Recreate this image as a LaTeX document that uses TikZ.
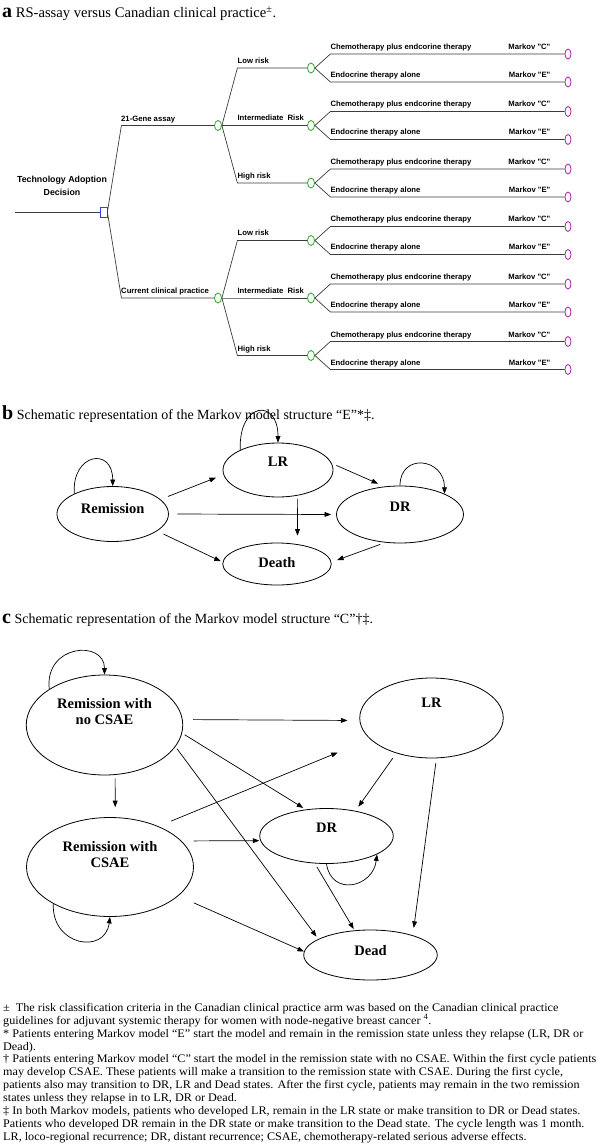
\documentclass[tikz,border=0pt]{standalone}
\usepackage{fontspec}
\setmainfont{Liberation Serif}
\newfontfamily\treefont{Liberation Sans}
\newfontfamily\notefont{Liberation Serif}[FakeStretch=1.05]
\usetikzlibrary{arrows.meta,calc,shapes.geometric}

\definecolor{chancegreen}{RGB}{40,170,40}
\definecolor{decblue}{RGB}{60,60,230}
\definecolor{markovpurple}{RGB}{170,30,170}
\definecolor{treegray}{RGB}{60,60,60}

\begin{document}
\begin{tikzpicture}[x=1pt,y=-1pt,
    branch/.style={draw=treegray,line width=0.7pt},
    decision/.style={rectangle,draw=decblue,line width=0.8pt,minimum width=7pt,minimum height=10pt,inner sep=0pt},
    chance/.style={ellipse,draw=chancegreen,line width=0.8pt,minimum width=7pt,minimum height=10pt,inner sep=0pt},
    markov/.style={ellipse,draw=markovpurple,line width=0.8pt,minimum width=6pt,minimum height=10pt,inner sep=0pt},
    treelbl/.style={font=\treefont\bfseries\fontsize{7.7}{9}\selectfont,inner sep=0pt},
    state/.style={ellipse,draw,line width=0.8pt,inner sep=0pt,align=center,font=\bfseries\fontsize{14.5}{16}\selectfont},
    arr/.style={-{Triangle[length=6.5pt,width=4.8pt]},line width=0.7pt},
    title/.style={anchor=base west,inner sep=0pt,font=\fontsize{14}{16}\selectfont}]
        \useasboundingbox (0,0) rectangle (600,1147);

        % a: decision tree
        \node[title,font=\fontsize{14.6}{16}\selectfont] (ttla) at (2,18) {\textbf{\fontsize{20}{20}\selectfont a} RS-assay versus Canadian clinical practice\textsuperscript{±}.};

        \coordinate (root) at (15,212);
        \node[decision] (dec) at (103.5,212) {};
        \node[treelbl,font=\treefont\bfseries\fontsize{8.8}{12.5}\selectfont,align=center] (techlbl) at (62,186) {Technology Adoption\\Decision};
        \draw[branch] (root) -- (dec);

        \node[chance] (gene) at (218,125.5) {};
        \node[chance] (ccp) at (218,298) {};
        \draw[branch] (dec.east) -- ($(dec.east |- gene)+(14,0)$) -- (gene.west);
        \draw[branch] (dec.east) -- ($(dec.east |- ccp)+(14,0)$) -- (ccp.west);
        \node[treelbl,anchor=base west] (genelbl) at (121,121.5) {21-Gene assay};
        \node[treelbl,anchor=base west] (ccplbl) at (121,294) {Current clinical practice};

        \foreach \arm in {gene,ccp} {
          \foreach \risk/\rtext/\dy in {low/Low risk/-57.5,mid/Intermediate\ \ Risk/0,high/High risk/57.5} {
            \node[chance] (\arm-\risk) at ($(\arm)+(93,\dy)$) {};
            \draw[branch] (\arm.east) -- ($(\arm.east |- \arm-\risk)+(15.5,0)$) -- (\arm-\risk.west);
            \node[treelbl,anchor=base west] (\arm-\risk-lbl) at ($(\arm.east |- \arm-\risk)+(15.5,-4.5)$) {\rtext};

            \node[markov] (\arm-\risk-c) at ($(\arm-\risk)+(257,-14)$) {};
            \node[markov] (\arm-\risk-e) at ($(\arm-\risk)+(257,14)$) {};
            \draw[branch] (\arm-\risk.east) -- ($(\arm-\risk.east |- \arm-\risk-c)+(15.5,0)$) -- (\arm-\risk-c.west);
            \draw[branch] (\arm-\risk.east) -- ($(\arm-\risk.east |- \arm-\risk-e)+(15.5,0)$) -- (\arm-\risk-e.west);
            \node[treelbl,anchor=base west] (\arm-\risk-clbl) at ($(\arm-\risk.east |- \arm-\risk-c)+(15.5,-4.5)$) {Chemotherapy plus endcorine therapy};
            \node[treelbl,anchor=base west] (\arm-\risk-elbl) at ($(\arm-\risk.east |- \arm-\risk-e)+(15.5,-4.5)$) {Endocrine therapy alone};
            \node[treelbl,anchor=base east] (\arm-\risk-cm) at ($(\arm-\risk-c.west)+(-14,-4.5)$) {Markov "C"};
            \node[treelbl,anchor=base east] (\arm-\risk-em) at ($(\arm-\risk-e.west)+(-14,-4.5)$) {Markov "E"};
          }
        }

        % b: Markov model E
        \node[title] (ttlb) at (2,419) {\textbf{\fontsize{20}{20}\selectfont b} Schematic representation of the Markov model structure “E”*‡.};

        \node[state,minimum width=111.5pt,minimum height=55pt,text depth=12pt] (rem) at (112.7,514) {Remission};
        \node[state,minimum width=110pt,minimum height=54pt,text depth=16pt] (lrb) at (278,470) {LR};
        \node[state,minimum width=127pt,minimum height=57pt,text depth=15pt] (drb) at (400,514.5) {DR};
        \node[state,minimum width=108.5pt,minimum height=42pt,text depth=4pt] (death) at (277,564) {Death};

        \draw[arr] (rem.152) .. controls +(-3,-40) and +(0,-40) .. (rem.north);
        \draw[arr] (lrb.152) .. controls +(-2,-48) and +(0,-45) .. (lrb.north);
        \draw[arr] (drb.north) .. controls +(0,-33) and +(0,-36) .. (drb.25);
        \draw[arr,shorten <=8pt,shorten >=8pt] (rem.17) -- (lrb.185);
        \draw[arr,shorten <=8.5pt,shorten >=5pt] (rem.east) -- (drb.west);
        \draw[arr,shorten <=7pt,shorten >=2pt] (rem.-21) -- (death.178);
        \draw[arr,shorten <=5pt,shorten >=7pt] (lrb.7) -- (drb.119);
        \draw[arr,shorten <=3pt,shorten >=8.5pt] (lrb.-53) -- (death.44);
        \draw[arr,shorten <=5pt,shorten >=6pt] (drb.242) -- (death.2);

        % c: Markov model C
        \node[title] (ttlc) at (2,623) {\textbf{\fontsize{20}{20}\selectfont c} Schematic representation of the Markov model structure “C”†‡.};

        \node[state,minimum width=156.5pt,minimum height=100pt,text depth=28pt] (rnc) at (104.5,725) {Remission with\\no CSAE};
        \node[state,minimum width=143.5pt,minimum height=80pt,text depth=30pt] (lrc) at (431.5,718) {LR};
        \node[state,minimum width=167pt,minimum height=99pt,text depth=26pt] (rc) at (110,867) {Remission with\\CSAE};
        \node[state,minimum width=133.5pt,minimum height=55pt,text depth=16pt] (drc) at (326.5,836) {DR};
        \node[state,minimum width=133.5pt,minimum height=50pt,text depth=10pt] (dead) at (370.5,955) {Dead};

        \draw[arr] (rnc.147) .. controls +(-5,-45) and +(0,-35) .. (rnc.north);
        \draw[arr] (rc.213) .. controls +(-2,42) and +(-5,38) .. (rc.south);
        \draw[arr] (drc.south) .. controls +(5,33) and +(-4,33) .. (drc.-20);
        \draw[arr,shorten <=10.5pt,shorten >=12pt] (rnc.4) -- (lrc.182);
        \draw[arr,shorten <=3pt,shorten >=3pt] (rnc.-6) -- (drc.128);
        \draw[arr,shorten <=2.5pt,shorten >=3pt] (rnc.-17) -- (dead.163);
        \draw[arr,shorten <=3.5pt,shorten >=10pt] (rnc.-78) -- (rc.84);
        \draw[arr,shorten <=13.5pt,shorten >=35pt] (rc.40) -- (lrc.199);
        \draw[arr,shorten <=12pt,shorten >=1pt] (rc.20) -- (drc.184);
        \draw[arr,shorten <=17pt] (rc.-23) -- (dead.177);
        \draw[arr,shorten <=6pt,shorten >=5pt] (lrc.225) -- (drc.41);
        \draw[arr,shorten <=5pt,shorten >=7.5pt] (lrc.-83) -- (dead.25);
        \draw[arr,shorten <=4pt,shorten >=1.5pt] (drc.247) -- (dead.123);

        % footnotes
        \node[anchor=north west,inner sep=0pt,align=left,font=\notefont\fontsize{11.6}{12.9}\selectfont] (notes) at (3,1003) {%
          ±\ \ The risk classification criteria in the Canadian clinical practice arm was based on the Canadian clinical practice\\
          guidelines for adjuvant systemic therapy for women with node-negative breast cancer \textsuperscript{4}.\\
          * Patients entering Markov model “E” start the model and remain in the remission state unless they relapse (LR, DR or\\
          Dead).\\
          † Patients entering Markov model “C” start the model in the remission state with no CSAE. Within the first cycle patients\\
          may develop CSAE. These patients will make a transition to the remission state with CSAE. During the first cycle,\\
          patients also may transition to DR, LR and Dead states. After the first cycle, patients may remain in the two remission\\
          states unless they relapse in to LR, DR or Dead.\\
          ‡ In both Markov models, patients who developed LR, remain in the LR state or make transition to DR or Dead states.\\
          Patients who developed DR remain in the DR state or make transition to the Dead state. The cycle length was 1 month.\\
          LR, loco-regional recurrence; DR, distant recurrence; CSAE, chemotherapy-related serious adverse effects.};
      \end{tikzpicture}
\end{document}
